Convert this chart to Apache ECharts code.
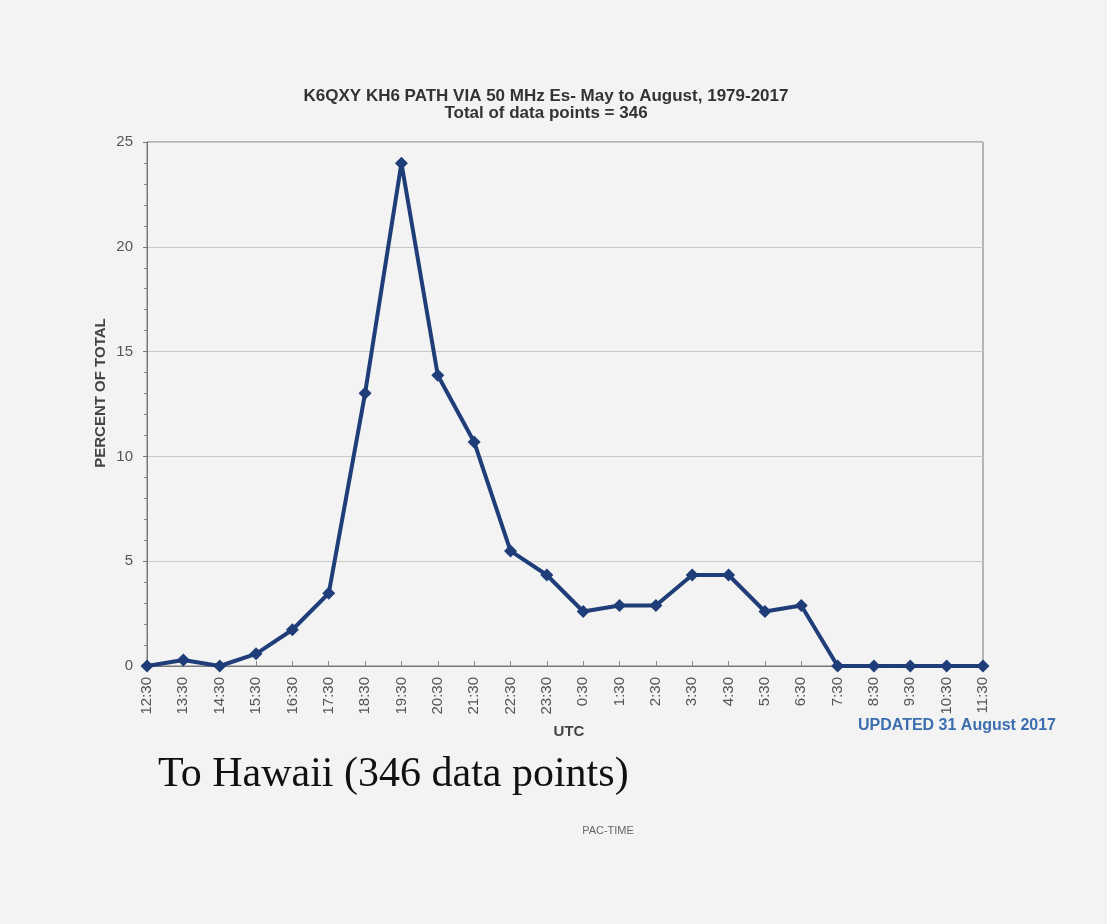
<!DOCTYPE html>
<html>
<head>
<meta charset="utf-8">
<script src="https://cdn.jsdelivr.net/npm/echarts@6/dist/echarts.min.js"></script>
<style>
html,body{margin:0;padding:0;background:#f3f3f3;}
#chart{width:1107px;height:924px;}
</style>
</head>
<body>
<div id="chart"></div>
<script>
const categories = ["12:30","13:30","14:30","15:30","16:30","17:30","18:30","19:30","20:30","21:30","22:30","23:30","0:30","1:30","2:30","3:30","4:30","5:30","6:30","7:30","8:30","9:30","10:30","11:30"];
const percentValues = [0, 0.29, 0, 0.58, 1.73, 3.47, 13.01, 23.99, 13.87, 10.69, 5.49, 4.34, 2.60, 2.89, 2.89, 4.34, 4.34, 2.60, 2.89, 0, 0, 0, 0, 0];
const titleLines = ["K6QXY KH6 PATH VIA 50 MHz Es- May to August, 1979-2017", "Total of data points = 346"];
const yTicks = [0, 5, 10, 15, 20, 25];
const FONT = '"Liberation Sans", Arial, sans-serif';

const chart = echarts.init(document.getElementById('chart'));
chart.setOption({
  backgroundColor: '#f3f3f3',
  animation: false,
  title: {
    text: titleLines.join('\n'),
    left: 541, top: 83, textAlign: 'center',
    textStyle: {fontFamily: FONT, fontSize: 17, fontWeight: 'bold', color: '#333', lineHeight: 17}
  },
  grid: {left: 147, right: 124, top: 142, bottom: 258, show: true, borderColor: '#777', borderWidth: 1, backgroundColor: 'transparent'},
  xAxis: {
    type: 'category', data: categories, boundaryGap: false,
    axisLine: {lineStyle: {color: '#777', width: 1}},
    axisTick: {show: true, inside: true, length: 5, alignWithLabel: true, lineStyle: {color: '#888'}},
    axisLabel: {rotate: 90, color: '#555', fontFamily: FONT, fontSize: 15, margin: 11, interval: 0},
    splitLine: {show: false}
  },
  yAxis: {
    type: 'value', min: yTicks[0], max: yTicks[yTicks.length - 1], interval: 5,
    axisLine: {show: true, lineStyle: {color: '#777', width: 1}},
    axisTick: {show: true, length: 4, inside: false, lineStyle: {color: '#777'}},
    minorTick: {show: true, splitNumber: 5, length: 3, lineStyle: {color: '#888'}},
    axisLabel: {color: '#555', fontFamily: FONT, fontSize: 15, margin: 14},
    splitLine: {show: true, lineStyle: {color: '#c8c8c8', width: 1}}
  },
  series: [{
    type: 'line', data: percentValues,
    symbol: 'diamond', symbolSize: 13, showAllSymbol: true,
    lineStyle: {color: '#1f3d78', width: 4},
    itemStyle: {color: '#1f3d78'},
    z: 5
  }],
  graphic: [
    {type: 'text', x: 101, y: 393, rotation: Math.PI / 2, style: {text: 'PERCENT OF TOTAL', fill: '#444', font: 'bold 15px ' + FONT, align: 'center', verticalAlign: 'middle'}},
    {type: 'text', x: 569, y: 732, style: {text: 'UTC', fill: '#444', font: 'bold 15px ' + FONT, align: 'center', verticalAlign: 'middle'}},
    {type: 'text', x: 858, y: 726, style: {text: 'UPDATED 31 August 2017', fill: '#3b6eb0', font: 'bold 16px ' + FONT, align: 'left', verticalAlign: 'middle'}},
    {type: 'text', x: 158, y: 775, style: {text: 'To Hawaii (346 data points)', fill: '#111', font: '42px "Liberation Serif", "Times New Roman", serif', align: 'left', verticalAlign: 'middle'}},
    {type: 'text', x: 608, y: 831, style: {text: 'PAC-TIME', fill: '#666', font: '11px ' + FONT, align: 'center', verticalAlign: 'middle'}}
  ]
});
</script>
</body>
</html>
